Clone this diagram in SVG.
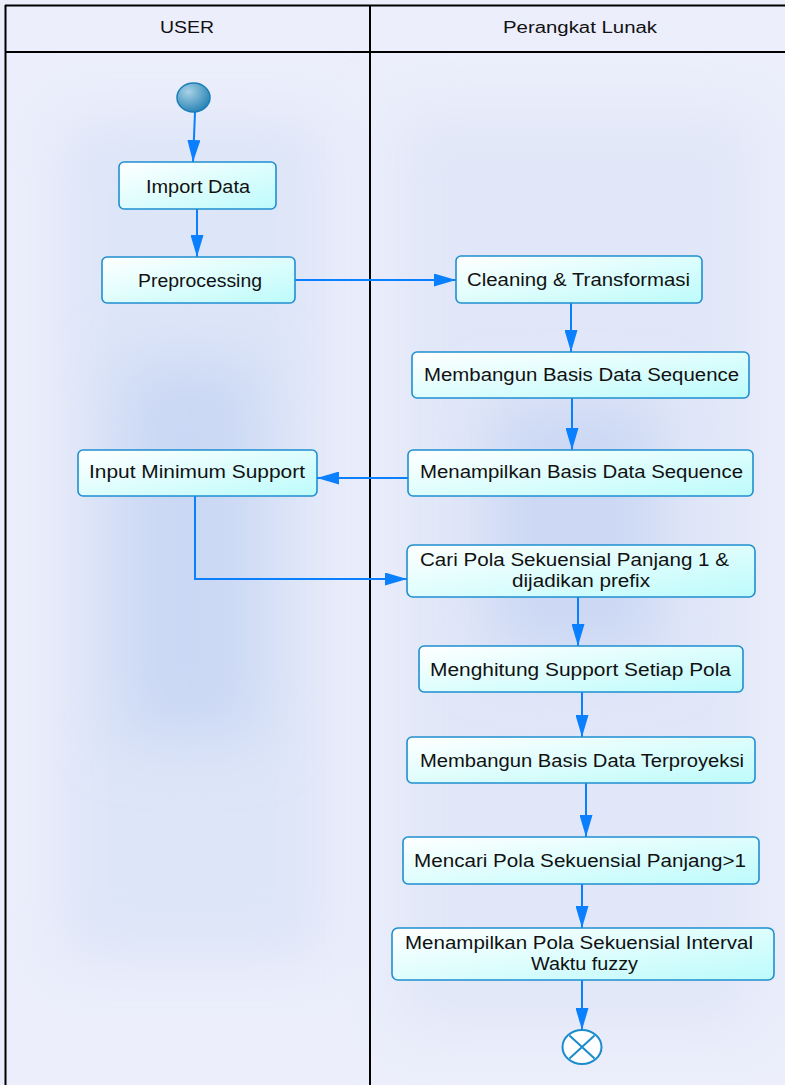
<svg xmlns="http://www.w3.org/2000/svg" width="785" height="1085" viewBox="0 0 785 1085">
  <defs>
    <style>
      .node rect { fill: url(#nodeFill); stroke: #1f8fcf; stroke-width: 1.6; }
      .node text, .lane-title { font-family: "Liberation Sans", Arial, sans-serif; fill: #111; }
      .node text { font-size: 17.5px; }
      .lane-title { font-size: 16px; }
      .flow { fill: none; stroke: #0a80ff; stroke-width: 2; marker-end: url(#arrow); }
      .frame { stroke: #000; stroke-width: 2; fill: none; }
    </style>
    <linearGradient id="nodeFill" x1="0" y1="0" x2="1" y2="1">
      <stop offset="0" stop-color="#ffffff"/>
      <stop offset="1" stop-color="#bdfbfb"/>
    </linearGradient>
    <radialGradient id="startFill" cx="0.35" cy="0.3" r="0.8">
      <stop offset="0" stop-color="#a9d2e6"/>
      <stop offset="1" stop-color="#1c7cb0"/>
    </radialGradient>
    <filter id="haze" x="-50%" y="-50%" width="200%" height="200%">
      <feGaussianBlur stdDeviation="30"/>
    </filter>
    <marker id="arrow" markerUnits="userSpaceOnUse" markerWidth="23" markerHeight="13" refX="22" refY="6.5" orient="auto">
      <path d="M0,0 L22,6.5 L0,13 Z" fill="#0a80ff"/>
    </marker>
  </defs>

  <!-- swimlane background -->
  <rect x="0" y="0" width="785" height="1085" fill="#eceefb"/>
  <g id="lane-shading">
    <rect x="60" y="120" width="265" height="840" fill="#dde5f8" filter="url(#haze)"/>
    <rect x="120" y="360" width="140" height="380" fill="#cbd8f4" filter="url(#haze)"/>
    <rect x="395" y="110" width="365" height="920" fill="#e1e7f8" filter="url(#haze)"/>
    <rect x="490" y="400" width="170" height="260" fill="#ccd8f4" filter="url(#haze)"/>
  </g>
  <rect x="6" y="6" width="779" height="46" fill="#eceefc"/>

  <!-- lane frame -->
  <g id="lanes">
    <line class="frame" x1="5" y1="5.5" x2="785" y2="5.5" stroke="#3a3a3a"/>
    <line class="frame" x1="5.5" y1="5" x2="5.5" y2="1085"/>
    <line class="frame" x1="5" y1="52" x2="785" y2="52"/>
    <line class="frame" x1="370" y1="5" x2="370" y2="1085"/>
    <text class="lane-title" x="160" y="33" textLength="54" lengthAdjust="spacingAndGlyphs">USER</text>
    <text class="lane-title" x="503" y="33" textLength="154" lengthAdjust="spacingAndGlyphs">Perangkat Lunak</text>
  </g>

  <!-- control flow -->
  <g id="connectors">
    <path class="flow" d="M195,112 L193,162"/>
    <path class="flow" d="M197,209 L197,257"/>
    <path class="flow" d="M295,280 L456,280"/>
    <path class="flow" d="M571,303 L571,352"/>
    <path class="flow" d="M572,398 L572,450"/>
    <path class="flow" d="M408,478 L317,478"/>
    <path class="flow" d="M195,496 L195,579 L407,579"/>
    <path class="flow" d="M578,597 L578,646"/>
    <path class="flow" d="M582,692 L582,737"/>
    <path class="flow" d="M586,783 L586,837"/>
    <path class="flow" d="M582,884 L582,928"/>
    <path class="flow" d="M582,980 L582,1030"/>
  </g>

  <g id="start">
    <ellipse cx="193.5" cy="97.5" rx="16.5" ry="14.5" fill="url(#startFill)" stroke="#1a7fb8" stroke-width="1.5"/>
  </g>

  <g id="import-data" class="node">
    <rect x="119" y="162" width="157" height="47" rx="5"/>
    <text x="146" y="192.5" textLength="104" lengthAdjust="spacingAndGlyphs">Import Data</text>
  </g>

  <g id="preprocessing" class="node">
    <rect x="102" y="257" width="193" height="46" rx="5"/>
    <text x="138" y="286.5" textLength="124" lengthAdjust="spacingAndGlyphs">Preprocessing</text>
  </g>

  <g id="cleaning" class="node">
    <rect x="456" y="256" width="246" height="47" rx="5"/>
    <text x="467" y="286" textLength="223" lengthAdjust="spacingAndGlyphs">Cleaning &amp; Transformasi</text>
  </g>

  <g id="build-sequence-db" class="node">
    <rect x="412" y="352" width="337" height="46" rx="5"/>
    <text x="424" y="380.5" textLength="315" lengthAdjust="spacingAndGlyphs">Membangun Basis Data Sequence</text>
  </g>

  <g id="show-sequence-db" class="node">
    <rect x="408" y="450" width="345" height="46" rx="5"/>
    <text x="420" y="478" textLength="323" lengthAdjust="spacingAndGlyphs">Menampilkan Basis Data Sequence</text>
  </g>

  <g id="input-min-support" class="node">
    <rect x="78" y="450" width="239" height="46" rx="5"/>
    <text x="89" y="478" textLength="216" lengthAdjust="spacingAndGlyphs">Input Minimum Support</text>
  </g>

  <g id="find-length-1" class="node">
    <rect x="407" y="545" width="348" height="52" rx="6"/>
    <text x="420" y="566" textLength="309" lengthAdjust="spacingAndGlyphs">Cari Pola Sekuensial Panjang 1 &amp;</text>
    <text x="512" y="587" textLength="138" lengthAdjust="spacingAndGlyphs">dijadikan prefix</text>
  </g>

  <g id="count-support" class="node">
    <rect x="419" y="646" width="324" height="46" rx="5"/>
    <text x="430" y="676" textLength="301" lengthAdjust="spacingAndGlyphs">Menghitung Support Setiap Pola</text>
  </g>

  <g id="projected-db" class="node">
    <rect x="407" y="737" width="348" height="46" rx="5"/>
    <text x="420" y="766.5" textLength="324" lengthAdjust="spacingAndGlyphs">Membangun Basis Data Terproyeksi</text>
  </g>

  <g id="find-longer" class="node">
    <rect x="403" y="837" width="356" height="47" rx="5"/>
    <text x="414" y="867" textLength="332" lengthAdjust="spacingAndGlyphs">Mencari Pola Sekuensial Panjang&gt;1</text>
  </g>

  <g id="show-fuzzy" class="node">
    <rect x="392" y="928" width="382" height="52" rx="6"/>
    <text x="405" y="949" textLength="348" lengthAdjust="spacingAndGlyphs">Menampilkan Pola Sekuensial Interval</text>
    <text x="531" y="969.5" textLength="107" lengthAdjust="spacingAndGlyphs">Waktu fuzzy</text>
  </g>

  <g id="end">
    <ellipse cx="582" cy="1047" rx="19.5" ry="17" fill="#ffffff" stroke="#1a8ccc" stroke-width="2"/>
    <path d="M569.5,1035.5 L594.5,1058.5 M594.5,1035.5 L569.5,1058.5" stroke="#1a8ccc" stroke-width="2"/>
  </g>
</svg>
